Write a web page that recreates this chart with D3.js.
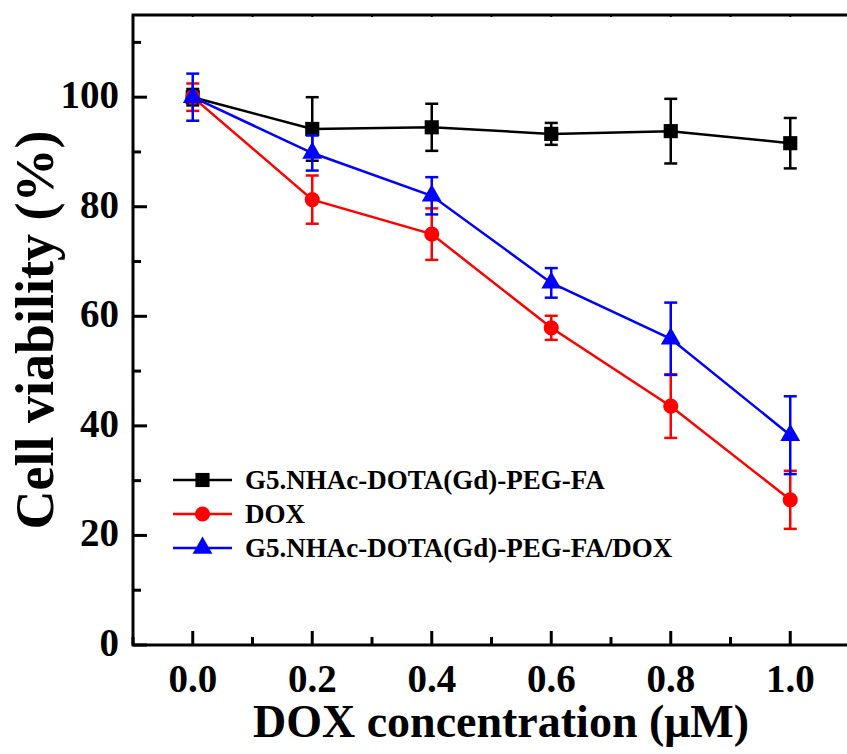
<!DOCTYPE html>
<html>
<head>
<meta charset="utf-8">
<script src="https://cdn.jsdelivr.net/npm/d3@7"></script>
<style>
  body { margin: 0; background: #fff; }
  svg text { font-family: "Liberation Serif", "Times New Roman", serif; font-weight: bold; }
</style>
</head>
<body>
<script>
// concentrations (uM)
var conc = [0.0, 0.2, 0.4, 0.6, 0.8, 1.0];

// cell viability (%) and error bars
var carrierVals = [100, 94.2, 94.5, 93.3, 93.8, 91.6];
var carrierErr  = [1.5, 5.8, 4.3, 2.0, 5.9, 4.6];
var doxVals     = [100, 81.3, 75.0, 57.9, 43.6, 26.5];
var doxErr      = [2.5, 4.4, 4.7, 2.2, 5.8, 5.3];
var complexVals = [100, 89.8, 82.0, 66.1, 55.9, 38.3];
var complexErr  = [4.3, 3.2, 3.4, 2.7, 6.6, 7.1];

var seriesNames = ["G5.NHAc-DOTA(Gd)-PEG-FA", "DOX", "G5.NHAc-DOTA(Gd)-PEG-FA/DOX"];
var xTicks = [0.0, 0.2, 0.4, 0.6, 0.8, 1.0];
var yTicks = [0, 20, 40, 60, 80, 100];

const W = 847, H = 754;
const margin = {top: 15, right: -3, bottom: 109, left: 133},
      width = W - margin.left - margin.right,
      height = H - margin.top - margin.bottom;

var svg = d3.select("body").append("svg")
  .attr("width", W)
  .attr("height", H)
  .append("g")
  .attr("transform", "translate(" + margin.left + "," + margin.top + ")");

var x = d3.scaleLinear().domain([-0.1, 1.1]).range([0, width]);
var y = d3.scaleLinear().domain([0, 115]).range([height, 0]);

var series = [
  {name: seriesNames[0], vals: carrierVals, err: carrierErr, color: "#000000", shape: d3.symbolSquare, size: 200},
  {name: seriesNames[1], vals: doxVals, err: doxErr, color: "#ff0000", shape: d3.symbolCircle, size: 180},
  {name: seriesNames[2], vals: complexVals, err: complexErr, color: "#0000ff", shape: d3.symbolTriangle, size: 170}
];

// frame
svg.append("rect")
  .attr("x", 0).attr("y", 0)
  .attr("width", width).attr("height", height)
  .attr("fill", "none").attr("stroke", "#000").attr("stroke-width", 3);

// bottom axis: major inward ticks, minor ticks
var minorX = d3.range(-0.1, 1.15, 0.1).map(function(d) { return Math.round(d * 10) / 10; })
  .filter(function(d) { return xTicks.indexOf(d) < 0; });
svg.selectAll(".xmaj").data(xTicks).enter().append("line")
  .attr("x1", function(d) { return x(d); }).attr("x2", function(d) { return x(d); })
  .attr("y1", height).attr("y2", height - 14)
  .attr("stroke", "#000").attr("stroke-width", 3);
svg.selectAll(".xmin").data(minorX).enter().append("line")
  .attr("x1", function(d) { return x(d); }).attr("x2", function(d) { return x(d); })
  .attr("y1", height).attr("y2", height - 8)
  .attr("stroke", "#000").attr("stroke-width", 3);
// top axis tiny ticks
svg.selectAll(".xtop").data(xTicks.concat(minorX)).enter().append("line")
  .attr("x1", function(d) { return x(d); }).attr("x2", function(d) { return x(d); })
  .attr("y1", 0).attr("y2", 2)
  .attr("stroke", "#000").attr("stroke-width", 2);

svg.selectAll(".xlab").data(xTicks).enter().append("text")
  .attr("x", function(d) { return x(d); })
  .attr("y", height + 47)
  .attr("text-anchor", "middle")
  .style("font-size", "39px")
  .text(function(d) { return d3.format(".1f")(d); });

// left axis
var minorY = [10, 30, 50, 70, 90, 110];
svg.selectAll(".ymaj").data(yTicks).enter().append("line")
  .attr("x1", 0).attr("x2", 14)
  .attr("y1", function(d) { return y(d); }).attr("y2", function(d) { return y(d); })
  .attr("stroke", "#000").attr("stroke-width", 3);
svg.selectAll(".ymin").data(minorY).enter().append("line")
  .attr("x1", 0).attr("x2", 8)
  .attr("y1", function(d) { return y(d); }).attr("y2", function(d) { return y(d); })
  .attr("stroke", "#000").attr("stroke-width", 3);
svg.selectAll(".ylab").data(yTicks).enter().append("text")
  .attr("x", -14)
  .attr("y", function(d) { return y(d) + 11; })
  .attr("text-anchor", "end")
  .style("font-size", "39px")
  .text(function(d) { return d; });

// axis titles
svg.append("text")
  .attr("x", 501 - margin.left)
  .attr("y", height + 92)
  .attr("text-anchor", "middle")
  .style("font-size", "46px")
  .text("DOX concentration (\u03bcM)");

svg.append("text")
  .attr("transform", "translate(" + (53 - margin.left) + "," + (330 - margin.top) + ") rotate(-90)")
  .attr("text-anchor", "middle")
  .style("font-size", "54px")
  .text("Cell viability (%)");

// series: lines, error bars, markers
var line = d3.line()
  .x(function(d, i) { return x(conc[i]); })
  .y(function(d) { return y(d); });

series.forEach(function(s) {
  var g = svg.append("g");
  g.append("path")
    .datum(s.vals)
    .attr("d", line)
    .attr("fill", "none")
    .attr("stroke", s.color)
    .attr("stroke-width", 2.5);

  var eb = g.selectAll(".err").data(s.vals).enter().append("g");
  eb.append("line")
    .attr("x1", function(d, i) { return x(conc[i]); })
    .attr("x2", function(d, i) { return x(conc[i]); })
    .attr("y1", function(d, i) { return y(d + s.err[i]); })
    .attr("y2", function(d, i) { return y(d - s.err[i]); })
    .attr("stroke", s.color).attr("stroke-width", 2.5);
  [1, -1].forEach(function(sign) {
    eb.append("line")
      .attr("x1", function(d, i) { return x(conc[i]) - 6.5; })
      .attr("x2", function(d, i) { return x(conc[i]) + 6.5; })
      .attr("y1", function(d, i) { return y(d + sign * s.err[i]); })
      .attr("y2", function(d, i) { return y(d + sign * s.err[i]); })
      .attr("stroke", s.color).attr("stroke-width", 2.5);
  });

  g.selectAll(".pt").data(s.vals).enter().append("path")
    .attr("d", d3.symbol().type(s.shape).size(s.size))
    .attr("transform", function(d, i) { return "translate(" + x(conc[i]) + "," + y(d) + ")"; })
    .attr("fill", s.color);
});

// legend
var legend = svg.append("g")
  .attr("transform", "translate(" + (173 - margin.left) + "," + (480 - margin.top) + ")");
series.forEach(function(s, i) {
  var row = legend.append("g").attr("transform", "translate(0," + (i * 34) + ")");
  row.append("line")
    .attr("x1", 0).attr("x2", 59).attr("y1", 0).attr("y2", 0)
    .attr("stroke", s.color).attr("stroke-width", 2.5);
  row.append("path")
    .attr("d", d3.symbol().type(s.shape).size(s.size))
    .attr("transform", "translate(29.5,0)")
    .attr("fill", s.color);
  row.append("text")
    .attr("x", 72).attr("y", 9)
    .style("font-size", "27px")
    .text(s.name);
});
</script>
</body>
</html>
